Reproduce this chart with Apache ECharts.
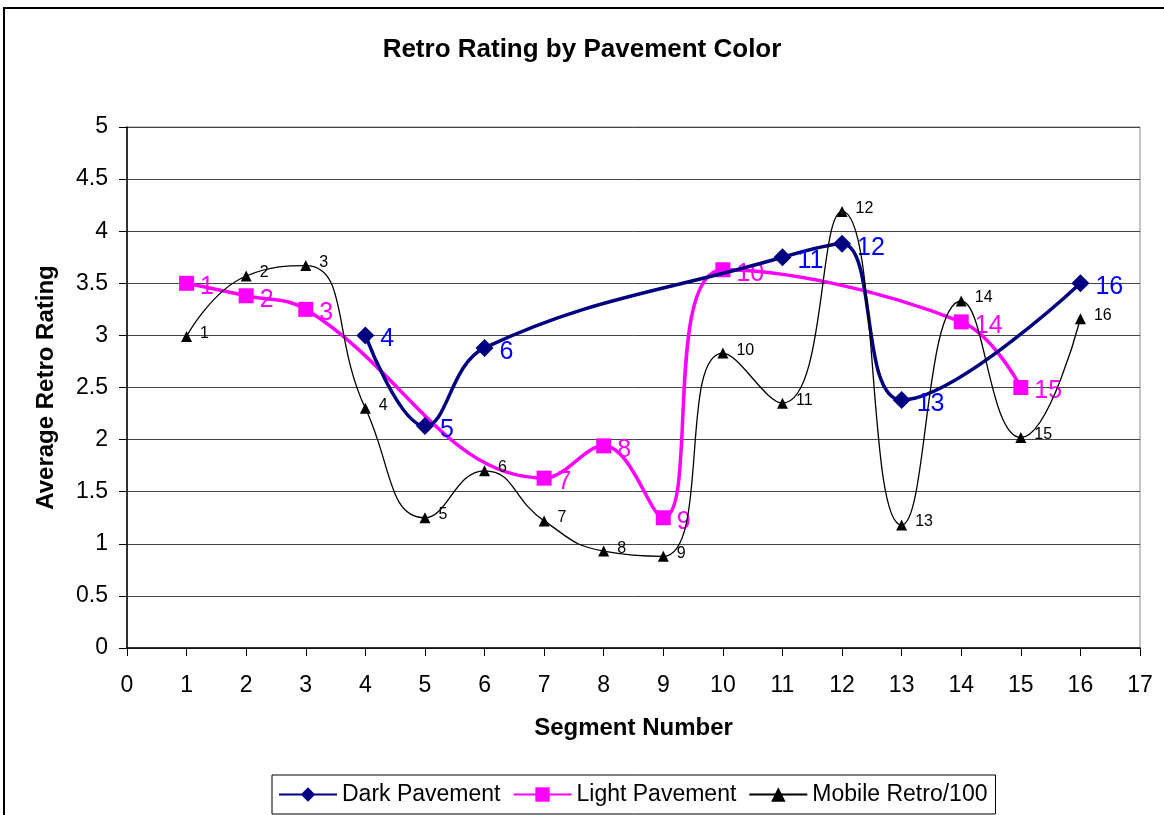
<!DOCTYPE html>
<html>
<head>
<meta charset="utf-8">
<script src="https://cdn.jsdelivr.net/npm/echarts@6/dist/echarts.min.js"></script>
<style>
  html, body { margin: 0; padding: 0; background: #fff; }
  #chart { width: 1164px; height: 815px; }
</style>
</head>
<body>
<div id="chart"></div>
<script>
// segment numbers and average ratings
const darkSegments = [4, 5, 6, 11, 12, 13, 16];
const darkValues = [3.0, 2.13, 2.88, 3.75, 3.88, 2.38, 3.5];

const lightSegments = [1, 2, 3, 7, 8, 9, 10, 14, 15];
const lightValues = [3.5, 3.38, 3.25, 1.63, 1.94, 1.25, 3.63, 3.13, 2.5];

const mobileSegments = [1, 2, 3, 4, 5, 6, 7, 8, 9, 10, 11, 12, 13, 14, 15, 16];
const mobileValues = [2.99, 3.57, 3.67, 2.3, 1.25, 1.7, 1.22, 0.93, 0.88, 2.83, 2.35, 4.19, 1.18, 3.33, 2.02, 3.16];

const font = 'Liberation Sans, Arial, sans-serif';

function pairs(xs, ys) {
  return xs.map((x, i) => [x, ys[i]]);
}

const chart = echarts.init(document.getElementById('chart'));

const option = {
  animation: false,
  backgroundColor: '#fff',
  textStyle: { fontFamily: font },
  title: {
    text: 'Retro Rating by Pavement Color',
    left: 'center',
    top: 32,
    textStyle: { fontSize: 26, fontWeight: 'bold', color: '#000', fontFamily: font }
  },
  graphic: [{
    type: 'rect',
    shape: { x: 4, y: 8, width: 1200, height: 900 },
    style: { fill: 'none', stroke: '#000', lineWidth: 2 },
    silent: true
  }],
  legend: {
    bottom: 1,
    left: 272,
    borderColor: '#000',
    borderWidth: 1,
    padding: [8, 8, 8, 6],
    itemGap: 12,
    itemWidth: 58,
    itemHeight: 18,
    textStyle: { fontSize: 23, color: '#000', fontFamily: font },
    data: ['Dark Pavement', 'Light Pavement', 'Mobile Retro/100']
  },
  grid: {
    left: 127,
    right: 24,
    top: 127,
    bottom: 167,
    show: true,
    borderColor: '#888',
    borderWidth: 1,
    containLabel: false
  },
  xAxis: {
    type: 'value',
    min: 0,
    max: 17,
    interval: 1,
    name: 'Segment Number',
    nameLocation: 'middle',
    nameGap: 68,
    nameTextStyle: { fontSize: 24, fontWeight: 'bold', color: '#000', fontFamily: font },
    axisLine: { show: true, onZero: false, lineStyle: { color: '#000', width: 1.5 } },
    axisTick: { show: true, length: 8, lineStyle: { color: '#000' } },
    axisLabel: { fontSize: 23, color: '#000', margin: 26, fontFamily: font },
    splitLine: { show: false }
  },
  yAxis: {
    type: 'value',
    min: 0,
    max: 5,
    interval: 0.5,
    name: 'Average Retro Rating',
    nameLocation: 'middle',
    nameGap: 69,
    nameTextStyle: { fontSize: 24, fontWeight: 'bold', color: '#000', fontFamily: font },
    axisLine: { show: true, lineStyle: { color: '#000', width: 1.5 } },
    axisTick: { show: true, length: 8, lineStyle: { color: '#000' } },
    axisLabel: { fontSize: 23, color: '#000', margin: 19, fontFamily: font },
    splitLine: { show: true, lineStyle: { color: '#444', width: 1 } }
  },
  series: [
    {
      name: 'Light Pavement',
      type: 'line',
      smooth: 0.4,
      data: pairs(lightSegments, lightValues),
      symbol: 'rect',
      symbolSize: 15,
      z: 3,
      lineStyle: { color: '#ff00ff', width: 3.5 },
      itemStyle: { color: '#ff00ff' },
      label: {
        show: true,
        position: 'right',
        distance: 6,
        offset: [0, 4],
        fontSize: 25,
        color: '#ff00ff',
        fontFamily: font,
        formatter: p => p.value[0]
      }
    },
    {
      name: 'Dark Pavement',
      type: 'line',
      smooth: 0.4,
      data: pairs(darkSegments, darkValues),
      symbol: 'diamond',
      symbolSize: 18,
      z: 4,
      lineStyle: { color: '#000080', width: 3.5 },
      itemStyle: { color: '#000080' },
      label: {
        show: true,
        position: 'right',
        distance: 6,
        offset: [0, 4],
        fontSize: 25,
        color: '#0000ff',
        fontFamily: font,
        formatter: p => p.value[0]
      }
    },
    {
      name: 'Mobile Retro/100',
      type: 'line',
      smooth: 0.5,
      data: pairs(mobileSegments, mobileValues),
      symbol: 'triangle',
      symbolSize: 11,
      z: 5,
      lineStyle: { color: '#000', width: 1.3 },
      itemStyle: { color: '#000' },
      label: {
        show: true,
        position: 'right',
        distance: 8,
        offset: [0, -3],
        fontSize: 16,
        color: '#000',
        fontFamily: font,
        formatter: p => p.value[0]
      }
    }
  ]
};

chart.setOption(option);
</script>
</body>
</html>
